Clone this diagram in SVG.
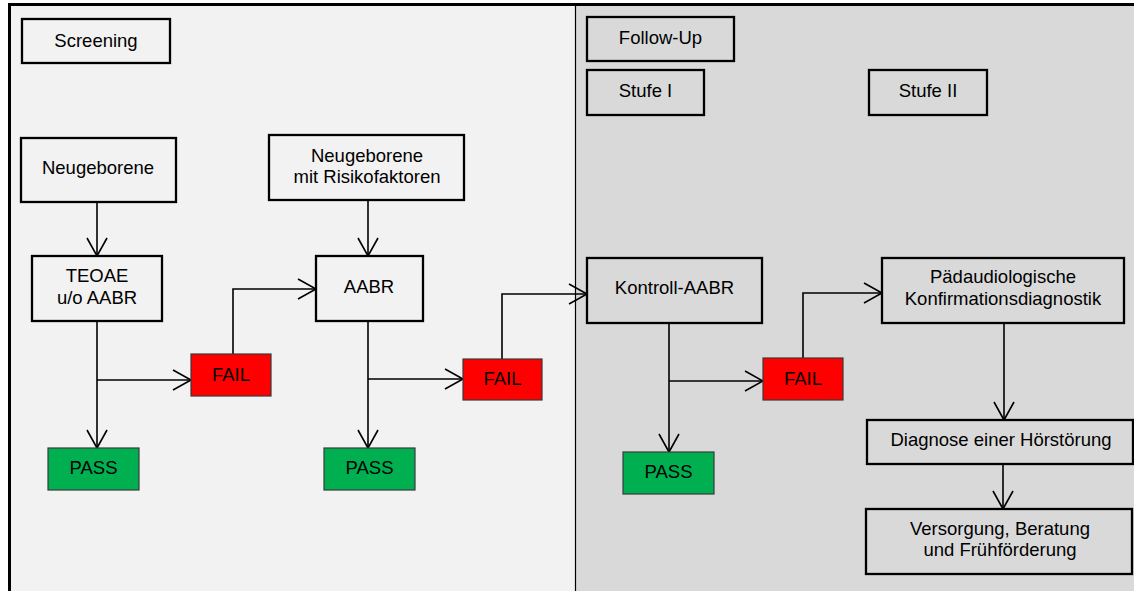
<svg xmlns="http://www.w3.org/2000/svg" width="1134" height="591" viewBox="0 0 1134 591">
<style>
text{font-family:"Liberation Sans",Arial,sans-serif;font-size:18.5px;fill:#000;text-anchor:middle}
.box{stroke:#000;stroke-width:2.3}
.l{fill:#f2f2f2}
.r{fill:#d9d9d9}
.fail{fill:#ff0000;stroke:#3a3a3a;stroke-width:1.2}
.pass{fill:#00b050;stroke:#3a3a3a;stroke-width:1.2}
.c{fill:none;stroke:#000;stroke-width:1.6;marker-end:url(#arr)}
</style>
<defs>
<marker id="arr" markerUnits="userSpaceOnUse" markerWidth="24" markerHeight="24" viewBox="-20 -12 24 24" refX="0" refY="0" orient="auto" overflow="visible">
<path d="M-18,-10 L0,0 L-18,10" fill="none" stroke="#000" stroke-width="1.6"/>
</marker>
</defs>
<rect x="0" y="0" width="1134" height="591" fill="#ffffff"/>
<g id="panels">
<rect x="9.5" y="4.5" width="566" height="600" fill="#f2f2f2"/>
<rect x="575.5" y="4.5" width="570" height="600" fill="#d9d9d9"/>
<line x1="575.5" y1="5" x2="575.5" y2="591" stroke="#000" stroke-width="1.2"/>
<path d="M9.5,600 V4.5 H1140" fill="none" stroke="#000" stroke-width="3"/>
</g>
<g id="connectors">
<path class="c" d="M97,202 V256"/>
<path class="c" d="M368,200 V256"/>
<path class="c" d="M97,321 V448"/>
<path class="c" d="M97,380 H191"/>
<path class="c" d="M233,354 V289 H316"/>
<path class="c" d="M368,321 V448"/>
<path class="c" d="M368,379 H463"/>
<path class="c" d="M502,359 V294 H587"/>
<path class="c" d="M669,323 V452"/>
<path class="c" d="M669,381 H763"/>
<path class="c" d="M803,358 V293 H882"/>
<path class="c" d="M1004,323 V420"/>
<path class="c" d="M1003,464 V509"/>
</g>
<g id="screening"><rect class="box l" x="22" y="19" width="148" height="44"/><text x="96" y="47">Screening</text></g>
<g id="neugeborene"><rect class="box l" x="21" y="138" width="155" height="64"/><text x="98" y="174">Neugeborene</text></g>
<g id="neugeborene-risiko"><rect class="box l" x="269" y="135" width="195" height="65"/><text x="367" y="162">Neugeborene</text><text x="367" y="183">mit Risikofaktoren</text></g>
<g id="teoae"><rect class="box l" x="32" y="256" width="130" height="65"/><text x="97" y="282">TEOAE</text><text x="97" y="304">u/o AABR</text></g>
<g id="aabr"><rect class="box l" x="316" y="256" width="107" height="65"/><text x="369" y="293">AABR</text></g>
<g id="fail1"><rect class="fail" x="191" y="354" width="80" height="42"/><text x="231" y="381">FAIL</text></g>
<g id="pass1"><rect class="pass" x="48" y="448" width="91" height="42"/><text x="93.5" y="474">PASS</text></g>
<g id="fail2"><rect class="fail" x="463" y="359" width="79" height="41"/><text x="502.5" y="385">FAIL</text></g>
<g id="pass2"><rect class="pass" x="324" y="448" width="91" height="42"/><text x="369.5" y="474">PASS</text></g>
<g id="followup"><rect class="box r" x="587" y="17" width="147" height="44"/><text x="660.5" y="44">Follow-Up</text></g>
<g id="stufe1"><rect class="box r" x="587" y="70" width="117" height="45"/><text x="645.5" y="97">Stufe I</text></g>
<g id="stufe2"><rect class="box r" x="869" y="70" width="118" height="45"/><text x="928" y="97">Stufe II</text></g>
<g id="kontroll"><rect class="box r" x="587" y="258" width="175" height="65"/><text x="674.5" y="294">Kontroll-AABR</text></g>
<g id="fail3"><rect class="fail" x="763" y="358" width="80" height="42"/><text x="803" y="385">FAIL</text></g>
<g id="pass3"><rect class="pass" x="623" y="452" width="91" height="42"/><text x="668.5" y="478">PASS</text></g>
<g id="paed"><rect class="box r" x="882" y="258" width="242" height="65"/><text x="1003" y="283">Pädaudiologische</text><text x="1003" y="305">Konfirmationsdiagnostik</text></g>
<g id="diagnose"><rect class="box r" x="867" y="420" width="266" height="44"/><text x="1001" y="446">Diagnose einer Hörstörung</text></g>
<g id="versorgung"><rect class="box r" x="866" y="509" width="266" height="65"/><text x="1000" y="535">Versorgung, Beratung</text><text x="1000" y="556">und Frühförderung</text></g>
</svg>
